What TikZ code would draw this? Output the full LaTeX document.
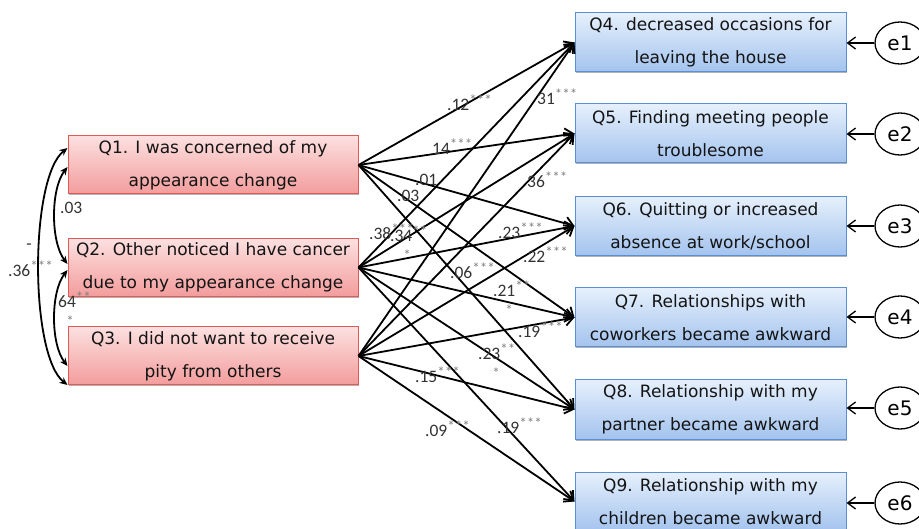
\documentclass[tikz,border=0pt]{standalone}
\usepackage{fontspec}
\setmainfont{DejaVu Sans}
\newfontfamily\labfont{Carlito}
\usetikzlibrary{arrows.meta,calc,shadows,shapes.geometric}
\definecolor{lefttop}{HTML}{FCE0E0}
\definecolor{leftbot}{HTML}{F39C9C}
\definecolor{leftborder}{HTML}{E05A5A}
\definecolor{righttop}{HTML}{E6F0FC}
\definecolor{rightbot}{HTML}{A3C3EE}
\definecolor{rightborder}{HTML}{5B8FD3}
\definecolor{textcol}{HTML}{141414}
\definecolor{numcol}{HTML}{333333}
\definecolor{stargray}{HTML}{808080}
\newcommand{\sups}[1]{\raisebox{5pt}{\fontsize{15}{15}\selectfont\color{stargray}#1}}
\begin{document}
\begin{tikzpicture}[x=1pt,y=-1pt,
  qbox/.style={line width=1pt, inner sep=0pt, align=center,
    font=\fontsize{17}{33}\selectfont, text=textcol,
    drop shadow={shadow xshift=1.2pt,shadow yshift=-1.5pt,opacity=0.3,fill=black}},
  leftbox/.style={qbox, draw=leftborder, top color=lefttop, bottom color=leftbot,
    minimum width=290pt, minimum height=58pt},
  rightbox/.style={qbox, draw=rightborder, top color=righttop, bottom color=rightbot,
    minimum width=271pt, minimum height=59pt},
  errnode/.style={ellipse, draw, line width=1.3pt, fill=white, minimum width=50pt,
    minimum height=42pt, inner sep=0pt, font=\fontsize{20}{20}\selectfont},
  pathar/.style={line width=1.8pt, -{Straight Barb[length=8pt,width=13pt]}},
  errar/.style={line width=1.3pt, -{Straight Barb[length=8pt,width=12pt]}},
  corar/.style={line width=1.8pt, {Stealth[length=8pt,width=7pt]}-{Stealth[length=8pt,width=7pt]}},
  lbl/.style={inner sep=0pt, anchor=base west, text=numcol, font=\labfont\fontsize{17.5}{17.5}\selectfont},
  starlbl/.style={inner sep=0pt, text=stargray, font=\labfont\fontsize{15}{15}\selectfont}
]
\useasboundingbox (0,0) rectangle (919,529);

% left boxes
\node[leftbox] (q1) at (213,165) {Q1. I was concerned of my\\appearance change};
\node[leftbox] (q2) at (213,267.5) {Q2. Other noticed I have cancer\\due to my appearance change};
\node[leftbox] (q3) at (213,356) {Q3. I did not want to receive\\pity from others};

% right boxes
\node[rightbox] (q4) at (710.5,42.5) {Q4. decreased occasions for\\leaving the house};
\node[rightbox] (q5) at (710.5,133.5) {Q5. Finding meeting people\\troublesome};
\node[rightbox] (q6) at (710.5,226) {Q6. Quitting or increased\\absence at work/school};
\node[rightbox] (q7) at (710.5,317.5) {Q7. Relationships with\\coworkers became awkward};
\node[rightbox] (q8) at (710.5,409.5) {Q8. Relationship with my\\partner became awkward};
\node[rightbox] (q9) at (710.5,501.5) {Q9. Relationship with my\\children became awkward};

% error terms
\node[errnode] (e1) at (900,43) {e1};
\node[errnode] (e2) at (900,134) {e2};
\node[errnode] (e3) at (900,226) {e3};
\node[errnode] (e4) at (900,317) {e4};
\node[errnode] (e5) at (900,408) {e5};
\node[errnode] (e6) at (900,503) {e6};
\foreach \e/\q in {e1/q4,e2/q5,e3/q6,e4/q7,e5/q8,e6/q9}
  \draw[errar] (\e.west) -- (\e.west -| \q.east);

% paths
\foreach \q in {q4,q5,q6,q7,q8} \draw[pathar] (q1.east) -- (\q.west);
\foreach \q in {q4,q5,q6,q7,q8,q9} \draw[pathar] (q2.east) -- (\q.west);
\foreach \q in {q4,q5,q6,q7,q8,q9} \draw[pathar] (q3.east) -- (\q.west);

% correlations
\draw[corar] ($(q1.west)+(0,-17)$) .. controls +(-38,30) and +(-38,-30) .. ($(q3.west)+(0,29)$);
\draw[corar] ($(q1.west)+(0,2)$) .. controls +(-17,22) and +(-17,-22) .. ($(q2.west)+(0,-3.5)$);
\draw[corar] ($(q2.west)+(0,2.5)$) .. controls +(-17,22) and +(-17,-22) .. ($(q3.west)+(0,10)$);

% path labels
\node[lbl] (l14) at (447,111) {.12\sups{***}};
\node[lbl] (l34) at (537,105) {31\sups{***}};
\node[lbl] (l15) at (432,155) {14\sups{***}};
\node[lbl] (l16) at (415,186) {.01};
\node[lbl] (l17) at (397,202) {.03};
\node[lbl] (l35) at (527,188) {36\sups{***}};
\node[lbl] (l24) at (369,240) {.38\sups{***}};
\node[lbl] (l25) at (390,242) {.34\sups{**}};
\node[starlbl] (s25) at (407,255) {*};
\node[lbl] (l26) at (498,239) {.23\sups{***}};
\node[lbl] (l36) at (523,263) {.22\sups{***}};
\node[lbl] (l18) at (450,279) {.06\sups{***}};
\node[lbl] (l27) at (493,297) {.21\sups{**}};
\node[starlbl] (s27) at (509,310) {*};
\node[lbl] (l37) at (518,338) {.19\sups{***}};
\node[lbl] (l28) at (478,360) {.23\sups{**}};
\node[starlbl] (s28) at (496,373) {*};
\node[lbl] (l38) at (415,383) {.15\sups{***}};
\node[lbl] (l39) at (425,436) {.09\sups{***}};
\node[lbl] (l29) at (497,433) {.19\sups{***}};

% correlation labels
\node[lbl] (c12) at (60,214) {.03};
\node[lbl, anchor=center] (c13m) at (29,247) {-};
\node[lbl] (c13) at (8,277) {.36\sups{***}};
\node[lbl] (c23) at (58,308) {64\sups{**}};
\node[starlbl] (s23) at (70,321) {*};
\end{tikzpicture}
\end{document}
